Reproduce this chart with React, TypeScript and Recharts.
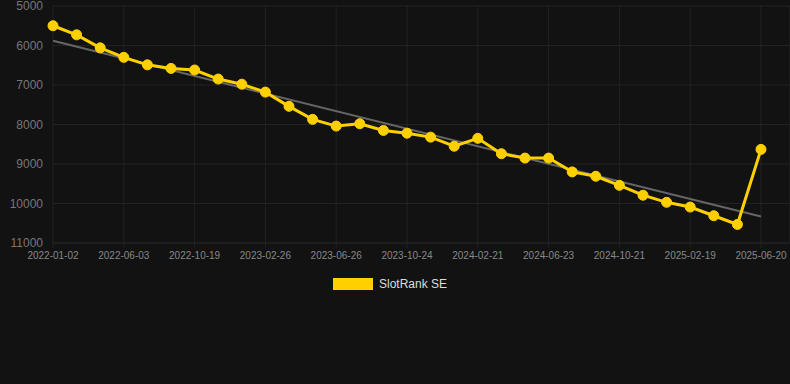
import React from "react";
import {
  LineChart,
  Line,
  XAxis,
  YAxis,
  CartesianGrid,
  ReferenceLine,
} from "recharts";

const dates = [
  "2022-01-02", "2022-02-22", "2022-04-13", "2022-06-03", "2022-07-19", "2022-09-03",
  "2022-10-19", "2022-12-01", "2023-01-13", "2023-02-26", "2023-04-07", "2023-05-17",
  "2023-06-26", "2023-08-05", "2023-09-14", "2023-10-24", "2023-12-03", "2024-01-12",
  "2024-02-21", "2024-04-01", "2024-05-13", "2024-06-23", "2024-08-02", "2024-09-11",
  "2024-10-21", "2024-11-30", "2025-01-09", "2025-02-19", "2025-03-31", "2025-05-10",
  "2025-06-20",
];

const ranks = [
  5500, 5730, 6060, 6300, 6490, 6580, 6620, 6850, 6980, 7180, 7540, 7870, 8040, 7980,
  8150, 8220, 8320, 8550, 8350, 8740, 8850, 8850, 9200, 9310, 9540, 9790, 9970, 10090,
  10310, 10530, 8630,
];

const trendEnds = [5880, 10330];
const yTicks = [5000, 6000, 7000, 8000, 9000, 10000, 11000];
const seriesName = "SlotRank SE";

const data = dates.map((d, i) => ({ date: d, rank: ranks[i] }));

const FONT = "'Liberation Sans', Arial, sans-serif";
const YELLOW = "#FFD000";

export default function App() {
  return (
    <div
      style={{
        position: "absolute",
        left: 0,
        top: 0,
        width: 790,
        height: 384,
        background: "#121212",
      }}
    >
      <LineChart
        width={790}
        height={384}
        data={data}
        margin={{ top: 6, right: 0, bottom: 111, left: 0 }}
      >
        <CartesianGrid stroke="#222222" strokeWidth={1} />
        <XAxis
          dataKey="date"
          interval={2}
          padding={{ left: 0, right: 29 }}
          tick={{ fill: "#888888", fontSize: 10, fontFamily: FONT }}
          tickLine={{ stroke: "#222222" }}
          axisLine={{ stroke: "#222222" }}
          tickSize={5}
          tickMargin={4}
          height={30}
        />
        <YAxis
          reversed
          domain={[5000, 11000]}
          ticks={yTicks}
          interval={0}
          width={53}
          axisLine={false}
          tickLine={false}
          tickMargin={4}
          tick={{ fill: "#777777", fontSize: 12, fontFamily: FONT }}
        />
        <ReferenceLine
          segment={[
            { x: dates[0], y: trendEnds[0] },
            { x: dates[dates.length - 1], y: trendEnds[1] },
          ]}
          stroke="#666666"
          strokeWidth={2}
        />
        <Line
          type="linear"
          dataKey="rank"
          name={seriesName}
          stroke={YELLOW}
          strokeWidth={3}
          dot={{ r: 5, fill: YELLOW, stroke: YELLOW, strokeWidth: 1 }}
          activeDot={false}
          isAnimationActive={false}
        />
      </LineChart>
      <div
        style={{
          position: "absolute",
          top: 278,
          left: 333,
          display: "flex",
          alignItems: "center",
          fontFamily: FONT,
          fontSize: 12,
          color: "#dddddd",
          lineHeight: "12px",
        }}
      >
        <span
          style={{
            display: "inline-block",
            width: 40,
            height: 12,
            background: YELLOW,
            marginRight: 6,
          }}
        />
        <span>{seriesName}</span>
      </div>
    </div>
  );
}
